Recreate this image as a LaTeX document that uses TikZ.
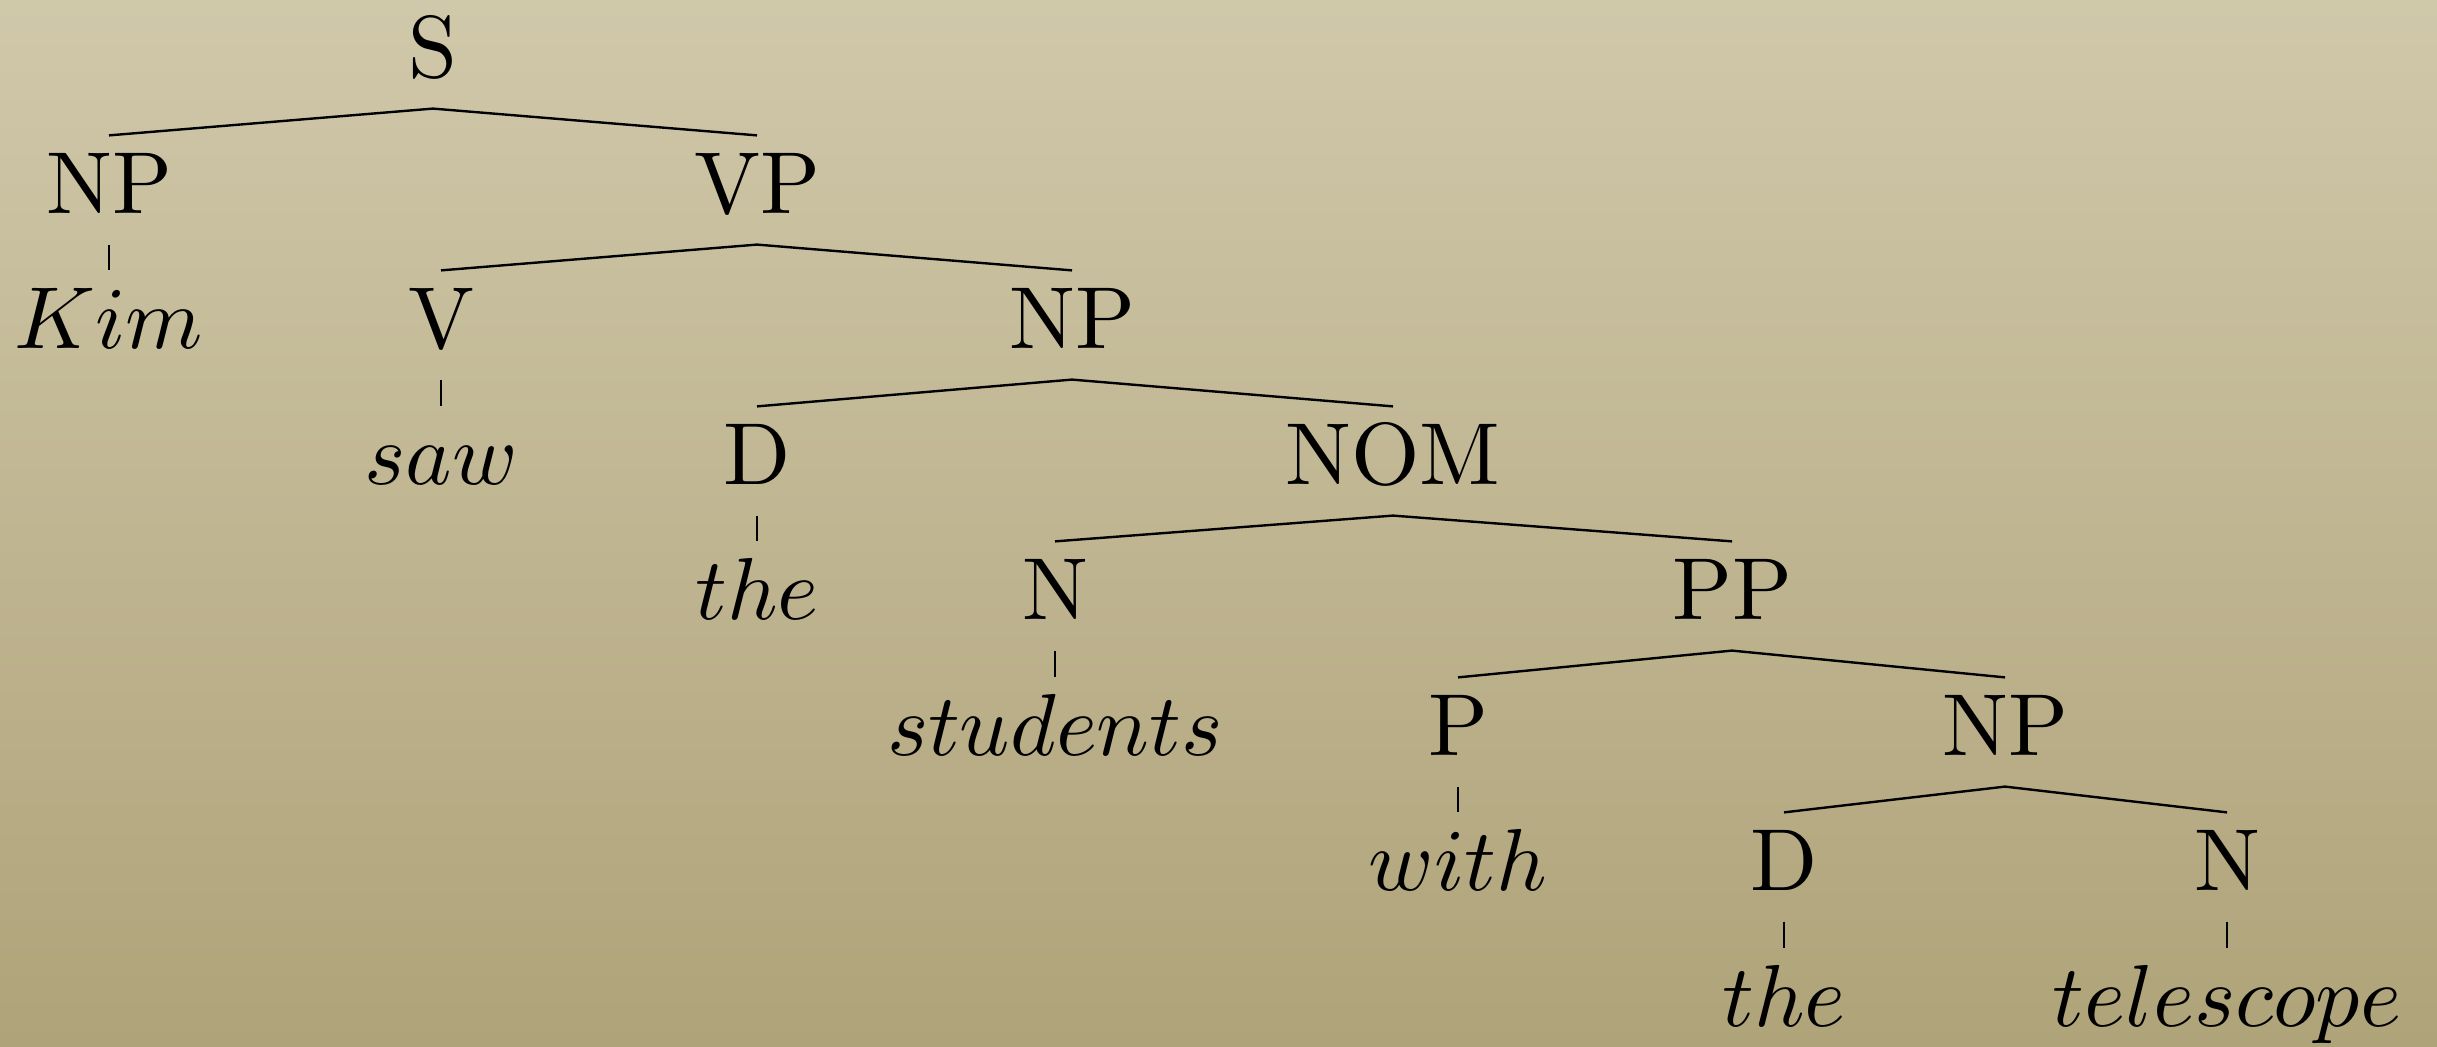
\documentclass[tikz,border=0pt]{standalone}
\definecolor{paperTop}{RGB}{208,200,170}
\definecolor{paperBot}{RGB}{175,163,121}
\begin{document}
\begin{tikzpicture}[x=0.5pt,y=-0.5pt,
  cat/.style={anchor=base, inner sep=0pt, text height=9.46pt, text depth=3.73pt,
              font=\fontsize{10.95}{13}\selectfont, scale=4.018},
  branch/.style={line width=1.2pt}]
% paper background
\fill[top color=paperTop, bottom color=paperBot] (0,0) rectangle (2437,1046);
\useasboundingbox (0,0) rectangle (2437,1046);

% categories and words, placed on their baselines
\node[cat] (s)         at (433,77)    {S};
\node[cat] (np1)       at (109,213)   {NP};
\node[cat] (vp)        at (757,213)   {VP};
\node[cat] (kim)       at (109,348)   {$Kim$};
\node[cat] (v)         at (441,348)   {V};
\node[cat] (np2)       at (1072,348)  {NP};
\node[cat] (saw)       at (441,484)   {$saw$};
\node[cat] (d1)        at (757,484)   {D};
\node[cat] (nom)       at (1393,484)  {NOM};
\node[cat] (the1)      at (757,619)   {$the$};
\node[cat] (n1)        at (1055,619)  {N};
\node[cat] (pp)        at (1732,619)  {PP};
\node[cat] (students)  at (1055,755)  {$students$};
\node[cat] (p)         at (1458,755)  {P};
\node[cat] (np3)       at (2005,755)  {NP};
\node[cat] (with)      at (1458,890)  {$with$};
\node[cat] (d2)        at (1784,890)  {D};
\node[cat] (n2)        at (2227,890)  {N};
\node[cat] (the2)      at (1784,1026) {$the$};
\node[cat] (telescope) at (2227,1026) {$telescope$};

% branches
\draw[branch] (np1.north) -- (s.south) -- (vp.north);
\draw[branch] (np1.south) -- (kim.north);
\draw[branch] (v.north) -- (vp.south) -- (np2.north);
\draw[branch] (v.south) -- (saw.north);
\draw[branch] (d1.north) -- (np2.south) -- (nom.north);
\draw[branch] (d1.south) -- (the1.north);
\draw[branch] (n1.north) -- (nom.south) -- (pp.north);
\draw[branch] (n1.south) -- (students.north);
\draw[branch] (p.north) -- (pp.south) -- (np3.north);
\draw[branch] (p.south) -- (with.north);
\draw[branch] (d2.north) -- (np3.south) -- (n2.north);
\draw[branch] (d2.south) -- (the2.north);
\draw[branch] (n2.south) -- (telescope.north);
\end{tikzpicture}
\end{document}
